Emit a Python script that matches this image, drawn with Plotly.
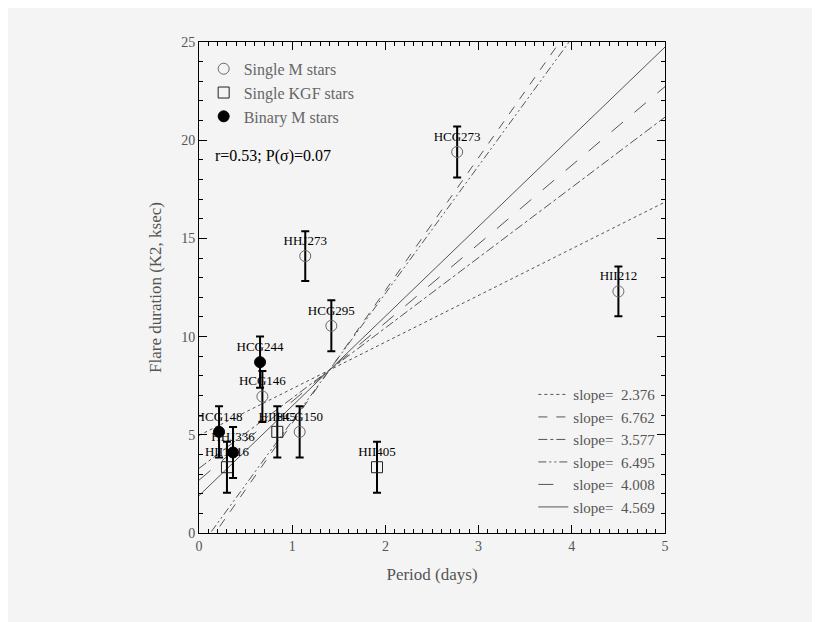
import numpy as np
import plotly.graph_objects as go

# stars: period (days), flare duration (ksec), error
labels = ["HCG273", "HHJ273", "HII212", "HCG295", "HCG146", "HCG150",
          "HII845", "HII1516", "HII405", "HCG244", "HCG148", "HHJ336"]
period = [2.77, 1.14, 4.50, 1.42, 0.68, 1.08, 0.84, 0.30, 1.91, 0.655, 0.215, 0.365]
duration = [19.4, 14.1, 12.3, 10.55, 6.95, 5.15, 5.15, 3.35, 3.35, 8.7, 5.15, 4.1]
err = [1.3, 1.27, 1.27, 1.3, 1.3, 1.3, 1.3, 1.3, 1.3, 1.3, 1.3, 1.3]
kind = ["M", "M", "M", "M", "M", "M", "KGF", "KGF", "KGF", "BIN", "BIN", "BIN"]

# fitted lines
slopes = [2.376, 6.762, 3.577, 6.495, 4.008, 4.569]
intercepts = [4.97, -1.17, 3.29, -0.79, 2.69, 1.90]
dashes = ["dot", "dash", "dashdot", "8px,3px,2px,3px,2px,3px", "longdash", "solid"]

FONT = "Liberation Serif"
fig = go.Figure()

xx = np.linspace(0, 5, 200)
for s, b, d in zip(slopes, intercepts, dashes):
    fig.add_trace(go.Scatter(x=xx, y=s * xx + b, mode="lines",
                             line=dict(color="#555", width=1, dash=d),
                             name=f"slope=  {s:.3f}", legend="legend2"))

styles = {"M": ("circle-open", "Single M stars", "#666"),
          "KGF": ("square-open", "Single KGF stars", "#222"),
          "BIN": ("circle", "Binary M stars", "black")}
for k in ["M", "KGF", "BIN"]:
    idx = [i for i, v in enumerate(kind) if v == k]
    sym, nm, col = styles[k]
    fig.add_trace(go.Scatter(
        x=[period[i] for i in idx], y=[duration[i] for i in idx],
        mode="markers+text", name=nm,
        marker=dict(symbol=sym, size=11, color=col, line=dict(width=1, color=col)),
        error_y=dict(type="data", array=[err[i] for i in idx], color="black",
                     thickness=2, width=4),
        text=[labels[i] for i in idx], textposition="top center",
        textfont=dict(family=FONT, size=13, color="black"),
        legend="legend"))

fig.add_annotation(x=0.03, y=0.79, xref="paper", yref="paper", showarrow=False,
                   xanchor="left", text="r=0.53; P(σ)=0.07",
                   font=dict(family=FONT, size=16, color="black"))

fig.update_layout(
    width=820, height=622, margin=dict(l=191, r=163, t=34, b=97),
    paper_bgcolor="#f4f4f4", plot_bgcolor="#f4f4f4",
    font=dict(family=FONT, size=14, color="#555"),
    legend=dict(x=0.01, y=0.98, bgcolor="rgba(0,0,0,0)",
                font=dict(family=FONT, size=16, color="#666"),
                tracegroupgap=0),
    legend2=dict(x=0.99, y=0.02, xanchor="right", yanchor="bottom",
                 bgcolor="rgba(0,0,0,0)",
                 font=dict(family=FONT, size=15, color="#555"), tracegroupgap=0),
)
axis = dict(showgrid=False, zeroline=False, showline=True, mirror="ticks",
            linecolor="black", linewidth=1, ticks="inside", ticklen=8,
            tickcolor="black", minor=dict(ticks="inside", ticklen=4, tickcolor="black"))
fig.update_xaxes(range=[0, 5], dtick=1, minor_dtick=0.1, title="Period (days)", **axis)
fig.update_yaxes(range=[0, 25], dtick=5, minor_dtick=1,
                 title="Flare duration (K2, ksec)", **axis)

fig.write_html("out.html")
